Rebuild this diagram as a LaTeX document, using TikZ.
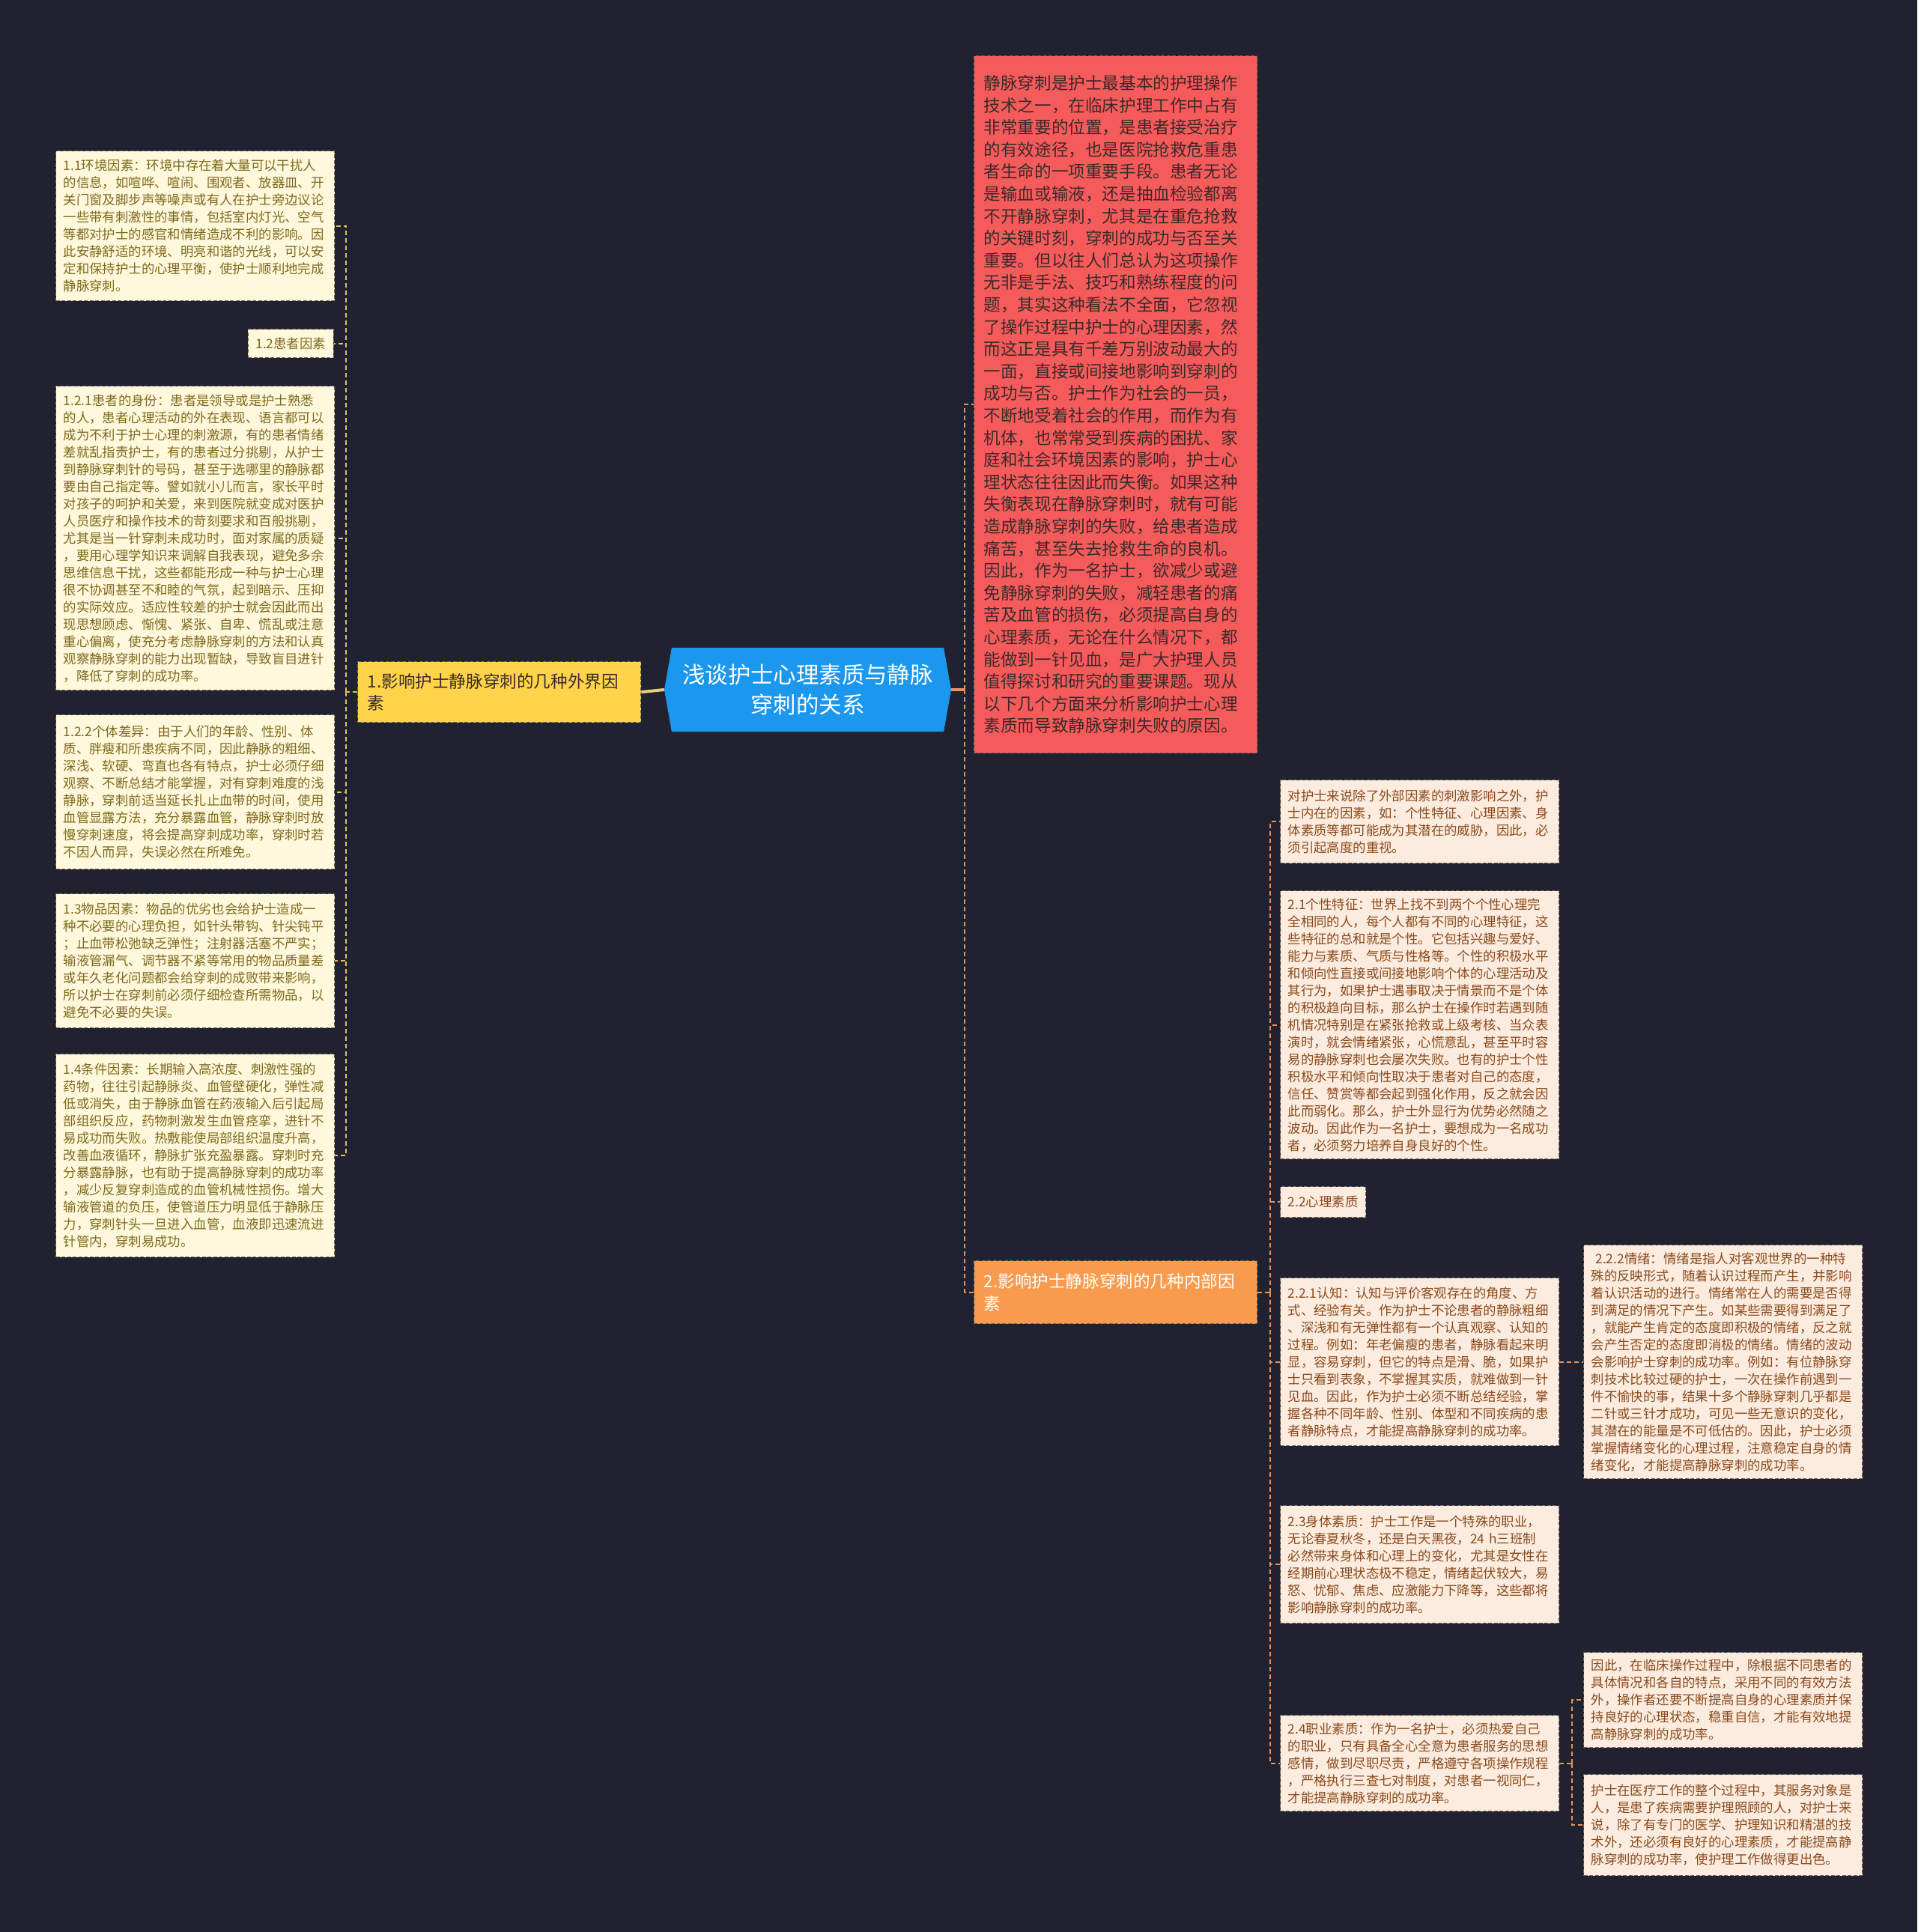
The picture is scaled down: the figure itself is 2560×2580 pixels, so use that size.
\documentclass[tikz,border=0pt]{standalone}
\usepackage{fontspec}
\setmainfont{Noto Sans CJK SC}
\usetikzlibrary{shapes.symbols, positioning}

\definecolor{bgNavy}{HTML}{20232F}
\definecolor{creamFill}{HTML}{FFF8DC}
\definecolor{oliveText}{HTML}{7D6A1C}
\definecolor{peachFill}{HTML}{FCECDF}
\definecolor{brownText}{HTML}{8A4A1C}
\definecolor{noteEdge}{HTML}{6E6A5E}
\definecolor{sunYellow}{HTML}{FFD44A}
\definecolor{skyBlue}{HTML}{1C97EE}
\definecolor{coralRed}{HTML}{F65B5B}
\definecolor{tangerine}{HTML}{F99B4F}
\definecolor{darkInk}{HTML}{3A2A2A}
\definecolor{goldLink}{HTML}{E5C15A}
\definecolor{salmonLink}{HTML}{E8915E}

\begin{document}
\begin{tikzpicture}[
  x=1pt, y=-1pt,
  every node/.style={inner sep=0pt},
  leftnote/.style={rectangle, draw=noteEdge, dash pattern=on 5pt off 2.5pt, line width=1.3pt,
    fill=creamFill, text=oliveText, font=\fontsize{17.4}{23}\selectfont,
    align=left, text width=352pt, inner xsep=10pt},
  rightnote/.style={leftnote, fill=peachFill, text=brownText},
  branch/.style={rectangle, draw=noteEdge, dash pattern=on 5pt off 2.5pt, line width=1.3pt,
    text=darkInk, font=\fontsize{22.6}{29.6}\selectfont, align=left,
    text width=352pt, inner xsep=13pt},
  titlebox/.style={signal, signal to=west and east, signal pointer angle=160,
    fill=skyBlue, text=white, font=\fontsize{30.4}{39.5}\selectfont, align=center,
    minimum width=383pt, minimum height=112pt},
  leftlink/.style={goldLink, line width=2pt, dash pattern=on 6pt off 4pt},
  rightlink/.style={salmonLink, line width=2pt, dash pattern=on 6pt off 4pt}
]

\fill[bgNavy] (0,0) rectangle (2560,2580);

\node[titlebox] (title) at (1078.5,921) {浅谈护士心理素质与静脉\\穿刺的关系};

\node[branch, fill=sunYellow, minimum height=81pt, anchor=north west] (outerFactors) at (477,883)
{1.影响护士静脉穿刺的几种外界因\\素};

\node[leftnote, minimum height=200pt, anchor=north west] (envFactor) at (74,201)
{1.1环境因素：环境中存在着大量可以干扰人\\
的信息，如喧哗、喧闹、围观者、放器皿、开\\
关门窗及脚步声等噪声或有人在护士旁边议论\\
一些带有刺激性的事情，包括室内灯光、空气\\
等都对护士的感官和情绪造成不利的影响。因\\
此安静舒适的环境、明亮和谐的光线，可以安\\
定和保持护士的心理平衡，使护士顺利地完成\\
静脉穿刺。};

\node[leftnote, text width=94pt, minimum height=38pt, anchor=north east] (patientFactor) at (446,439)
{1.2患者因素};

\node[leftnote, minimum height=406pt, anchor=north west] (patientRole) at (74,515)
{1.2.1患者的身份：患者是领导或是护士熟悉\\
的人，患者心理活动的外在表现、语言都可以\\
成为不利于护士心理的刺激源，有的患者情绪\\
差就乱指责护士，有的患者过分挑剔，从护士\\
到静脉穿刺针的号码，甚至于选哪里的静脉都\\
要由自己指定等。譬如就小儿而言，家长平时\\
对孩子的呵护和关爱，来到医院就变成对医护\\
人员医疗和操作技术的苛刻要求和百般挑剔，\\
尤其是当一针穿刺未成功时，面对家属的质疑\\
，要用心理学知识来调解自我表现，避免多余\\
思维信息干扰，这些都能形成一种与护士心理\\
很不协调甚至不和睦的气氛，起到暗示、压抑\\
的实际效应。适应性较差的护士就会因此而出\\
现思想顾虑、惭愧、紧张、自卑、慌乱或注意\\
重心偏离，使充分考虑静脉穿刺的方法和认真\\
观察静脉穿刺的能力出现暂缺，导致盲目进针\\
，降低了穿刺的成功率。};

\node[leftnote, minimum height=206pt, anchor=north west] (patientDiff) at (74,954)
{1.2.2个体差异：由于人们的年龄、性别、体\\
质、胖瘦和所患疾病不同，因此静脉的粗细、\\
深浅、软硬、弯直也各有特点，护士必须仔细\\
观察、不断总结才能掌握，对有穿刺难度的浅\\
静脉，穿刺前适当延长扎止血带的时间，使用\\
血管显露方法，充分暴露血管，静脉穿刺时放\\
慢穿刺速度，将会提高穿刺成功率，穿刺时若\\
不因人而异，失误必然在所难免。};

\node[leftnote, minimum height=179pt, anchor=north west] (itemFactor) at (74,1193)
{1.3物品因素：物品的优劣也会给护士造成一\\
种不必要的心理负担，如针头带钩、针尖钝平\\
；止血带松弛缺乏弹性；注射器活塞不严实；\\
输液管漏气、调节器不紧等常用的物品质量差\\
或年久老化问题都会给穿刺的成败带来影响，\\
所以护士在穿刺前必须仔细检查所需物品，以\\
避免不必要的失误。};

\node[leftnote, minimum height=271pt, anchor=north west] (condFactor) at (74,1407)
{1.4条件因素：长期输入高浓度、刺激性强的\\
药物，往往引起静脉炎、血管壁硬化，弹性减\\
低或消失，由于静脉血管在药液输入后引起局\\
部组织反应，药物刺激发生血管痉挛，进针不\\
易成功而失败。热敷能使局部组织温度升高，\\
改善血液循环，静脉扩张充盈暴露。穿刺时充\\
分暴露静脉，也有助于提高静脉穿刺的成功率\\
，减少反复穿刺造成的血管机械性损伤。增大\\
输液管道的负压，使管道压力明显低于静脉压\\
力，穿刺针头一旦进入血管，血液即迅速流进\\
针管内，穿刺易成功。};

\node[branch, fill=coralRed, minimum height=931pt, anchor=north west] (preface) at (1300,74)
{静脉穿刺是护士最基本的护理操作\\
技术之一，在临床护理工作中占有\\
非常重要的位置，是患者接受治疗\\
的有效途径，也是医院抢救危重患\\
者生命的一项重要手段。患者无论\\
是输血或输液，还是抽血检验都离\\
不开静脉穿刺，尤其是在重危抢救\\
的关键时刻，穿刺的成功与否至关\\
重要。但以往人们总认为这项操作\\
无非是手法、技巧和熟练程度的问\\
题，其实这种看法不全面，它忽视\\
了操作过程中护士的心理因素，然\\
而这正是具有千差万别波动最大的\\
一面，直接或间接地影响到穿刺的\\
成功与否。护士作为社会的一员，\\
不断地受着社会的作用，而作为有\\
机体，也常常受到疾病的困扰、家\\
庭和社会环境因素的影响，护士心\\
理状态往往因此而失衡。如果这种\\
失衡表现在静脉穿刺时，就有可能\\
造成静脉穿刺的失败，给患者造成\\
痛苦，甚至失去抢救生命的良机。\\
因此，作为一名护士，欲减少或避\\
免静脉穿刺的失败，减轻患者的痛\\
苦及血管的损伤，必须提高自身的\\
心理素质，无论在什么情况下，都\\
能做到一针见血，是广大护理人员\\
值得探讨和研究的重要课题。现从\\
以下几个方面来分析影响护士心理\\
素质而导致静脉穿刺失败的原因。};

\node[branch, fill=tangerine, text=white, minimum height=84pt, anchor=north west] (innerFactors) at (1300,1683)
{2.影响护士静脉穿刺的几种内部因\\素};

\node[rightnote, minimum height=111pt, anchor=north west] (innerIntro) at (1709,1041)
{对护士来说除了外部因素的刺激影响之外，护\\
士内在的因素，如：个性特征、心理因素、身\\
体素质等都可能成为其潜在的威胁，因此，必\\
须引起高度的重视。};

\node[rightnote, minimum height=358pt, anchor=north west] (personality) at (1709,1189)
{2.1个性特征：世界上找不到两个个性心理完\\
全相同的人，每个人都有不同的心理特征，这\\
些特征的总和就是个性。它包括兴趣与爱好、\\
能力与素质、气质与性格等。个性的积极水平\\
和倾向性直接或间接地影响个体的心理活动及\\
其行为，如果护士遇事取决于情景而不是个体\\
的积极趋向目标，那么护士在操作时若遇到随\\
机情况特别是在紧张抢救或上级考核、当众表\\
演时，就会情绪紧张，心慌意乱，甚至平时容\\
易的静脉穿刺也会屡次失败。也有的护士个性\\
积极水平和倾向性取决于患者对自己的态度，\\
信任、赞赏等都会起到强化作用，反之就会因\\
此而弱化。那么，护士外显行为优势必然随之\\
波动。因此作为一名护士，要想成为一名成功\\
者，必须努力培养自身良好的个性。};

\node[rightnote, text width=94pt, minimum height=41pt, anchor=north west] (mentalQual) at (1709,1584)
{2.2心理素质};

\node[rightnote, minimum height=224pt, anchor=north west] (cognition) at (1709,1706)
{2.2.1认知：认知与评价客观存在的角度、方\\
式、经验有关。作为护士不论患者的静脉粗细\\
、深浅和有无弹性都有一个认真观察、认知的\\
过程。例如：年老偏瘦的患者，静脉看起来明\\
显，容易穿刺，但它的特点是滑、脆，如果护\\
士只看到表象，不掌握其实质，就难做到一针\\
见血。因此，作为护士必须不断总结经验，掌\\
握各种不同年龄、性别、体型和不同疾病的患\\
者静脉特点，才能提高静脉穿刺的成功率。};

\node[rightnote, minimum height=312pt, anchor=north west] (emotion) at (2114,1662)
{\ 2.2.2情绪：情绪是指人对客观世界的一种特\\
殊的反映形式，随着认识过程而产生，并影响\\
着认识活动的进行。情绪常在人的需要是否得\\
到满足的情况下产生。如某些需要得到满足了\\
，就能产生肯定的态度即积极的情绪，反之就\\
会产生否定的态度即消极的情绪。情绪的波动\\
会影响护士穿刺的成功率。例如：有位静脉穿\\
刺技术比较过硬的护士，一次在操作前遇到一\\
件不愉快的事，结果十多个静脉穿刺几乎都是\\
二针或三针才成功，可见一些无意识的变化，\\
其潜在的能量是不可低估的。因此，护士必须\\
掌握情绪变化的心理过程，注意稳定自身的情\\
绪变化，才能提高静脉穿刺的成功率。};

\node[rightnote, minimum height=157pt, anchor=north west] (physique) at (1709,2010)
{2.3身体素质：护士工作是一个特殊的职业，\\
无论春夏秋冬，还是白天黑夜，24 h三班制\\
必然带来身体和心理上的变化，尤其是女性在\\
经期前心理状态极不稳定，情绪起伏较大，易\\
怒、忧郁、焦虑、应激能力下降等，这些都将\\
影响静脉穿刺的成功率。};

\node[rightnote, minimum height=128pt, anchor=north west] (career) at (1709,2290)
{2.4职业素质：作为一名护士，必须热爱自己\\
的职业，只有具备全心全意为患者服务的思想\\
感情，做到尽职尽责，严格遵守各项操作规程\\
，严格执行三查七对制度，对患者一视同仁，\\
才能提高静脉穿刺的成功率。};

\node[rightnote, minimum height=127pt, anchor=north west] (clinicNote) at (2114,2206)
{因此，在临床操作过程中，除根据不同患者的\\
具体情况和各自的特点，采用不同的有效方法\\
外，操作者还要不断提高自身的心理素质并保\\
持良好的心理状态，稳重自信，才能有效地提\\
高静脉穿刺的成功率。};

\node[rightnote, minimum height=135pt, anchor=north west] (serviceNote) at (2114,2369)
{护士在医疗工作的整个过程中，其服务对象是\\
人，是患了疾病需要护理照顾的人，对护士来\\
说，除了有专门的医学、护理知识和精湛的技\\
术外，还必须有良好的心理素质，才能提高静\\
脉穿刺的成功率，使护理工作做得更出色。};

% Links (elbows from each parent to its children)
\draw[goldLink!80!white, line width=4pt] (outerFactors.east) -- (title.west);
\draw[leftlink] (outerFactors.west) -- ++(-15,0) coordinate (leftSpine);
\foreach \kid in {envFactor, patientFactor, patientRole, patientDiff, itemFactor, condFactor}
  \draw[leftlink] (leftSpine) |- (\kid.east);

\draw[salmonLink, line width=4pt] (title.east) -- ++(18,0) coordinate (rightSpine);
\draw[rightlink] (rightSpine) |- (preface.west);
\draw[rightlink] (rightSpine) |- (innerFactors.west);

\draw[rightlink] (innerFactors.east) -- ++(17,0) coordinate (innerSpine);
\foreach \kid in {innerIntro, personality, mentalQual, cognition, physique, career}
  \draw[rightlink] (innerSpine) |- (\kid.west);

\draw[rightlink] (cognition.east) -- (emotion.west);
\draw[rightlink] (career.east) -- ++(17,0) coordinate (careerSpine);
\foreach \kid in {clinicNote, serviceNote}
  \draw[rightlink] (careerSpine) |- (\kid.west);

\end{tikzpicture}
\end{document}
